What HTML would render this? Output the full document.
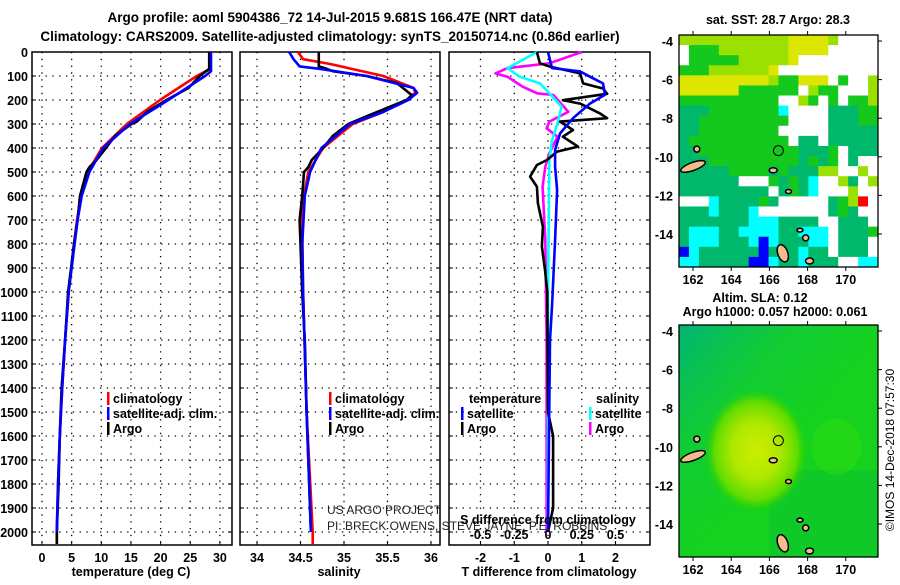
<!DOCTYPE html>
<html><head><meta charset="utf-8">
<style>
html,body{margin:0;padding:0;background:#fff;}
body{width:900px;height:580px;overflow:hidden;font-family:"Liberation Sans",sans-serif;}
svg text{font-family:"Liberation Sans",sans-serif;}
</style></head>
<body>
<svg id="chart" width="900" height="580" viewBox="0 0 900 580" xmlns="http://www.w3.org/2000/svg">
<text x="330" y="22" text-anchor="middle" font-size="13.5" font-weight="bold">Argo profile: aoml 5904386_72 14-Jul-2015 9.681S 166.47E (NRT data)</text>
<text x="330" y="41" text-anchor="middle" font-size="13.5" font-weight="bold">Climatology: CARS2009. Satellite-adjusted climatology: synTS_20150714.nc (0.86d earlier)</text>
<g id="panels"></g>
<g id="maps"></g>
<text transform="translate(894,450) rotate(-90)" text-anchor="middle" font-size="12">©IMOS 14-Dec-2018 07:57:30</text>
</svg>
<script>
// ---- data ----
const argoTempDepth = [0,70,100,150,200,250,290,300,350,400,450,480,500,600,700,800,900,1000,1200,1400,1600,1800,2000,2050];
const argoTemp      = [28.2,28.2,26.6,24.7,21,17.7,16,15.1,12.3,10.8,9.2,8,7.5,6.4,6,5.4,4.9,4.4,3.9,3.3,3.0,2.8,2.5,2.5];
const climTempDepth = [0,70,100,200,300,400,500,600,700,800,1000,1200,1400,1600,1800,2000,2050];
const climTemp      = [28.4,28.4,26.1,19.9,14.3,10.1,7.7,6.6,5.9,5.4,4.5,3.9,3.4,3.0,2.7,2.5,2.5];
const satTempDepth  = [0,80,100,200,300,400,500,600,700,800,1000,1200,1400,1600,1800,2000];
const satTemp       = [28.5,28.5,27.5,21.3,14.8,10.3,8,6.7,6.0,5.5,4.5,3.9,3.4,3.0,2.7,2.5];

const argoSalDepth = [0,60,70,80,100,130,180,200,250,280,300,350,400,450,480,500,600,700,800,1000,1200,1500,1800,2000];
const argoSal      = [34.71,34.71,34.8,34.87,35.26,35.61,35.78,35.72,35.38,35.18,35.05,34.87,34.76,34.63,34.59,34.54,34.52,34.49,34.5,34.52,34.55,34.57,34.6,34.62];
const climSalDepth = [0,30,50,100,150,170,200,250,300,400,500,600,700,1000,1500,2000,2050];
const climSal      = [34.47,34.53,34.84,35.45,35.8,35.82,35.72,35.45,35.1,34.76,34.59,34.54,34.52,34.53,34.57,34.64,34.64];
const satSalDepth  = [0,30,60,70,100,150,170,200,250,300,400,500,600,800,1000,1500,2000];
const satSal       = [34.37,34.42,34.49,34.72,35.26,35.8,35.84,35.74,35.45,35.07,34.74,34.61,34.55,34.52,34.53,34.57,34.62];

const argoTdiffDepth = [0,47,61,89,131,152,174,201,215,256,276,290,325,353,394,415,450,471,519,561,630,728,811,908,1000,1500,1600,1900,2000];
const argoTdiff      = [-0.33,-0.24,0.06,0.95,1.04,1.63,1.75,0.44,0.95,1.54,1.75,0.36,0.74,0.44,0.89,0.27,-0.03,-0.33,-0.53,-0.33,-0.3,-0.15,-0.18,-0.09,-0.02,0.0,0.15,0.15,0.0];
const satTdiffDepth  = [0,67,81,103,131,178,215,276,339,408,478,575,783,1061,1200,1600,2000];
const satTdiff       = [0,0.12,0.95,1.24,1.63,1.69,1.24,0.74,0.36,0.21,0.21,0.27,0.21,0.12,0.06,0.03,0.0];
const argoSdiffDepth = [0,47,67,89,103,144,172,179,249,290,318,353,422,478,561,783,1200,2000];
const argoSdiff      = [0.25,0.01,-0.3,-0.39,-0.3,-0.19,-0.08,0.04,0.15,0.01,-0.01,0.07,0.01,-0.02,-0.04,-0.02,-0.01,-0.01];
const satSdiffDepth  = [0,67,103,131,172,228,297,367,450,1000,2000];
const satSdiff       = [-0.08,-0.3,-0.21,-0.06,0.01,0.1,0.07,0.03,0.01,0.0,0.0];

const depthTicks = [0,100,200,300,400,500,600,700,800,900,1000,1100,1200,1300,1400,1500,1600,1700,1800,1900,2000];
const tempTicks = [0,5,10,15,20,25,30];
const salTicks = [34,34.5,35,35.5,36];
const tdiffTicks = [-2,-1,0,1,2];
const sdiffTicks = [-0.5,-0.25,0,0.25,0.5];

// ---- scales ----
const Y0=52, PY=0.24, YB=545;
const yD = d => Y0 + d*PY;
const xT = t => 42 + t*5.93;
const xS = s => 257 + (s-34)*87;
const xTd = t => 548 + t*33.75;
const xSd = s => 548 + s*135;

const NS='http://www.w3.org/2000/svg';
const root=document.getElementById('panels');
function mk(tag, attrs, parent){const e=document.createElementNS(NS,tag);for(const k in attrs)e.setAttribute(k,attrs[k]);(parent||root).appendChild(e);return e;}
function txt(s, attrs, parent){const e=mk('text',attrs,parent);e.textContent=s;return e;}

const panels=[{x0:32,x1:232,name:'temperature-panel'},{x0:240,x1:440,name:'salinity-panel'},{x0:449,x1:650,name:'difference-panel'}];
panels.forEach((p,i)=>{
  const g=mk('g',{});
  
  
  p.g=g;
  depthTicks.forEach(d=>{
    if(d>0) mk('line',{x1:p.x0,x2:p.x1,y1:yD(d),y2:yD(d),stroke:'#000','stroke-width':1.3,'stroke-dasharray':'1.3 5.5'},g);
    mk('line',{x1:p.x0,x2:p.x0+4,y1:yD(d),y2:yD(d),stroke:'#000'},g);
    mk('line',{x1:p.x1-4,x2:p.x1,y1:yD(d),y2:yD(d),stroke:'#000'},g);
  });
});
function vgrid(p,ticks,fx,labels){
  ticks.forEach(t=>{
    const x=fx(t);
    mk('line',{x1:x,x2:x,y1:Y0,y2:YB,stroke:'#000','stroke-width':1.3,'stroke-dasharray':'1.3 5.5'},p.g);
    mk('line',{x1:x,x2:x,y1:YB,y2:YB-4,stroke:'#000'},p.g);
    if(labels){const e=txt(String(t),{x:x,y:562,'text-anchor':'middle','font-size':12.5,'font-weight':'bold'},p.g);
      
      }
  });
}
vgrid(panels[0],tempTicks,xT,true);
vgrid(panels[1],salTicks,xS,true);
vgrid(panels[2],tdiffTicks,xTd,true);
panels.forEach(p=>{mk('rect',{x:p.x0,y:Y0,width:p.x1-p.x0,height:YB-Y0,fill:'none',stroke:'#000','stroke-width':1.5},p.g);});
depthTicks.forEach(d=>{
  const e=txt(String(d),{x:28,y:yD(d)+5,'text-anchor':'end','font-size':12.5,'font-weight':'bold'});
  
  
});
function series(depths, vals, fx, color, name, w){
  const pts=depths.map((d,i)=>fx(vals[i]).toFixed(1)+','+yD(d).toFixed(1)).join(' ');
  const e=mk('polyline',{points:pts,fill:'none',stroke:color,'stroke-width':w||2.6,'stroke-linejoin':'round'});
  
  
}
series(climTempDepth,climTemp,xT,'#f00','climatology-temp-line');
series(argoTempDepth,argoTemp,xT,'#000','argo-temp-line');
series(satTempDepth,satTemp,xT,'#00f','satellite-temp-line');
series(climSalDepth,climSal,xS,'#f00','climatology-salinity-line');
series(argoSalDepth,argoSal,xS,'#000','argo-salinity-line');
series(satSalDepth,satSal,xS,'#00f','satellite-salinity-line');
series(argoSdiffDepth,argoSdiff,xSd,'#f0f','argo-s-diff-line');
series(satSdiffDepth,satSdiff,xSd,'#0ff','satellite-s-diff-line');
series(argoTdiffDepth,argoTdiff,xTd,'#000','argo-t-diff-line');
series(satTdiffDepth,satTdiff,xTd,'#00f','satellite-t-diff-line');

sdiffTicks.forEach(s=>{
  const e=txt(String(s),{x:xSd(s),y:539,'text-anchor':'middle','font-size':12.5,'font-weight':'bold'});
  
  
});
function leg(x,y,color,label,name){
  const g=mk('g',{});
  
  
  if(color) mk('rect',{x:x,y:y-11,width:2.5,height:13,fill:color},g);
  txt(label,{x:x+6,y:y,'font-size':12.5,'font-weight':'bold'},g);
}
leg(107,403,'#f00','climatology','legend-climatology');
leg(107,418,'#00f','satellite-adj. clim.','legend-satellite-adj');
leg(107,433,'#000','Argo','legend-argo');
leg(329,403,'#f00','climatology','legend-climatology-2');
leg(329,418,'#00f','satellite-adj. clim.','legend-satellite-adj-2');
leg(329,433,'#000','Argo','legend-argo-2');
leg(463,403,null,'temperature','legend-temperature-heading');
leg(461,418,'#00f','satellite','legend-t-satellite');
leg(461,433,'#000','Argo','legend-t-argo');
leg(590,403,null,'salinity','legend-salinity-heading');
leg(589,418,'#0ff','satellite','legend-s-satellite');
leg(589,433,'#f0f','Argo','legend-s-argo');
const t1=txt('US ARGO PROJECT',{x:327,y:514,'font-size':12,fill:'#222'});


const t2=txt('PI: BRECK OWENS, STEVE JAYNE, P.E. ROBBINS',{x:327,y:530,'font-size':12,fill:'#222'});


const t3=txt('S difference from climatology',{x:548,y:524,'text-anchor':'middle','font-size':12.5,'font-weight':'bold'});


[['temperature (deg C)',131,'temperature-axis-title'],['salinity',339,'salinity-axis-title'],['T difference from climatology',549,'t-diff-axis-title']].forEach(a=>{
  const e=txt(a[0],{x:a[1],y:576,'text-anchor':'middle','font-size':12.5,'font-weight':'bold'});
  
  
});

// ---- maps ----
const mroot=document.getElementById('maps');
const MX0=679,MX1=878;
const lonTicks=[162,164,166,168,170];
const latTicks=[-4,-6,-8,-10,-12,-14];
const xLon = l => 693 + (l-162)*19.1;
const sstRows = [
"yyyyyyyyyyyYYYYywwww",
"wgggyyyyyyyYYYYwwwww",
"wgggggyyyyyYwwwwwwww",
"gggyyyyyyYwwwwwwwwww",
"YYYYYYYYYyggYYYwgwwy",
"YYYYYYggggggwyggwwwy",
"ggggggggggwwygwgwggy",
"tttgggggggcwwwwtttgg",
"ttgggggggggwwwwtttgg",
"ttggggggggwwwwwttttt",
"tggggggggggwttwttttt",
"ttggggggggggtttgwttt",
"tttgggggggggtgtgwtww",
"tttttggggtgtttyywwyw",
"ttttttwwwgtgtcwwytwy",
"tttttttttwtgtcwwwyww",
"wwwcttttgtwwwwwtgyrw",
"tttctttcwwwwwwwtgtww",
"tttttttcccttttwwtttw",
"tcccttccccttcccwtttg",
"tccctttcbctttccwtttw",
"bcttttttbtttcttwtttw",
"cctttttbbcttctttwwcc"];
const sstColors={g:'#14c81e',t:'#00b86c',y:'#9be000',Y:'#dce600',c:'#00ffff',b:'#0000ff',r:'#ff0000',w:'#ffffff'};
function mapFrame(name){
  const g=document.createElementNS(NS,'g');
  
  
  mroot.appendChild(g);
  return g;
}
function axes(g,y0,y1,yLat,labelY){
  mk('rect',{x:MX0,y:y0,width:MX1-MX0,height:y1-y0,fill:'none',stroke:'#000','stroke-width':1.3},g);
  lonTicks.forEach(l=>{
    mk('line',{x1:xLon(l),x2:xLon(l),y1:y0,y2:y0-4,stroke:'#000'},g);
    mk('line',{x1:xLon(l),x2:xLon(l),y1:y1,y2:y1+4,stroke:'#000'},g);
    const e=txt(String(l),{x:xLon(l),y:labelY,'text-anchor':'middle','font-size':12.5,'font-weight':'bold'},g);
    
    
  });
  latTicks.forEach(l=>{
    mk('line',{x1:MX1,x2:MX1+4,y1:yLat(l),y2:yLat(l),stroke:'#000'},g);
    const e=txt(String(l),{x:673,y:yLat(l)+5,'text-anchor':'end','font-size':12.5,'font-weight':'bold'},g);
    
    
  });
}
function islands(g,yLat){
  const isl=[[162,-10.5,13,4,-20],[162.2,-9.6,3,3,0],[166.2,-10.7,4,2.5,0],[167.0,-11.8,3,2,0],[167.9,-14.2,3,3,0],[166.7,-15.0,5,9,-20],[168.1,-15.4,4,3,0],[167.6,-13.8,3,2,0]];
  isl.forEach(a=>{mk('ellipse',{cx:xLon(a[0]),cy:yLat(a[1]),rx:a[2],ry:a[3],transform:`rotate(${a[4]} ${xLon(a[0])} ${yLat(a[1])})`,fill:'#f3bc8c',stroke:'#000','stroke-width':1.5},g);});
  const e=mk('circle',{cx:xLon(166.47),cy:yLat(-9.68),r:5,fill:'none',stroke:'#000','stroke-width':1},g);
  
  
}
// top SST map
const yLatA = l => 41 + (-4-l)*19.3;
const gA=mapFrame('sst-map');
const cw=(MX1-MX0)/20, ch=(267-35)/23;
sstRows.forEach((row,r)=>{[...row].forEach((c,k)=>{
  mk('rect',{x:MX0+k*cw,y:35+r*ch,width:cw+0.4,height:ch+0.4,fill:sstColors[c]},gA);
});});
islands(gA,yLatA);
axes(gA,35,267,yLatA,284);
const ta=txt('sat. SST: 28.7 Argo: 28.3',{x:778,y:24,'text-anchor':'middle','font-size':12.5,'font-weight':'bold'},gA);


// bottom SLA map
const yLatB = l => 331 + (-4-l)*19.3;
const gB=mapFrame('sla-map');
const defs=mk('defs',{},gB);
defs.innerHTML='<radialGradient id="yb" cx="0.5" cy="0.5" r="0.5"><stop offset="0" stop-color="#ccee00"/><stop offset="0.45" stop-color="#b0e800"/><stop offset="0.8" stop-color="#60dc00"/><stop offset="1" stop-color="#20d000" stop-opacity="0"/></radialGradient><linearGradient id="tl" x1="0" y1="0" x2="1" y2="1"><stop offset="0" stop-color="#00b478"/><stop offset="0.3" stop-color="#10c840" stop-opacity="0.6"/><stop offset="0.55" stop-color="#10c840" stop-opacity="0"/></linearGradient>';
mk('rect',{x:MX0,y:325,width:MX1-MX0,height:232,fill:'#14d21e'},gB);
mk('rect',{x:MX0,y:325,width:MX1-MX0,height:232,fill:'url(#tl)'},gB);
mk('rect',{x:MX0+90,y:470,width:109,height:87,fill:'#08c032',opacity:0.5},gB);
mk('ellipse',{cx:xLon(169.5),cy:yLatB(-10),rx:25,ry:28,fill:'#30dc10',opacity:0.5},gB);
mk('ellipse',{cx:xLon(165.3),cy:yLatB(-10.2),rx:52,ry:62,fill:'url(#yb)'},gB);
islands(gB,yLatB);
axes(gB,325,557,yLatB,574);
const tb1=txt('Altim. SLA: 0.12',{x:760,y:302,'text-anchor':'middle','font-size':12.5,'font-weight':'bold'},gB);


const tb2=txt('Argo h1000: 0.057 h2000: 0.061',{x:775,y:316,'text-anchor':'middle','font-size':12.5,'font-weight':'bold'},gB);


</script>
</body></html>
